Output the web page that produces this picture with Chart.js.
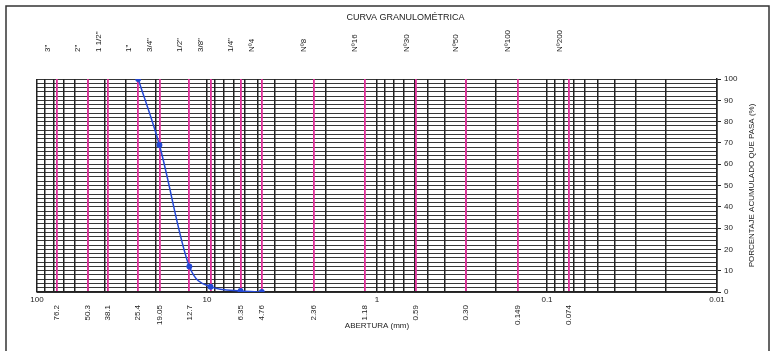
<!DOCTYPE html>
<html>
<head>
<meta charset="utf-8">
<script src="https://cdn.jsdelivr.net/npm/chart.js@4"></script>
<style>
html, body { margin: 0; padding: 0; background: #fff; }
</style>
</head>
<body>
<canvas id="curva" width="774" height="351"></canvas>
<script>
// tamices (nombre arriba, abertura abajo)
const sieveNames = ['3"', '2"', '1 1/2"', '1"', '3/4"', '1/2"', '3/8"', '1/4"', 'Nº4', 'Nº8', 'Nº16', 'Nº30', 'Nº50', 'Nº100', 'Nº200'];
const sieveSizes = [76.2, 50.3, 38.1, 25.4, 19.05, 12.7, 9.525, 6.35, 4.76, 2.36, 1.18, 0.59, 0.30, 0.149, 0.074];
const sieveLabels = ['76.2', '50.3', '38.1', '25.4', '19.05', '12.7', '', '6.35', '4.76', '2.36', '1.18', '0.59', '0.30', '0.149', '0.074'];

// muestra
const sampleSizes = [25.4, 19.05, 12.7, 9.525, 6.35, 4.76];
const percentPassing = [100, 69, 12, 2.5, 0.5, 0];

// ejes
const decadeTicks = [100, 10, 1, 0.1, 0.01];
const decadeLabels = ['100', '10', '1', '0.1', '0.01'];
const gridMultipliers = [1, 2, 3, 4, 5, 6, 7, 8, 9];
const yLabelStep = 10;

const FONT = '"Liberation Sans Narrow", "Liberation Sans", Arial, sans-serif';
const BLACK = '#222';
const MAGENTA = '#e0309a';
const BLUE = '#2448d6';

// lineas del papel logaritmico
const logGrid = [100];
decadeTicks.slice(1).forEach(function(d) {
    gridMultipliers.forEach(function(m) {
        logGrid.push(Number((m * d).toPrecision(3)));
    });
});

function sameLog(a, b) {
    return Math.abs(Math.log10(a) - Math.log10(b)) < 1e-6;
}

const framePlugin = {
    id: 'frame',
    beforeDraw(chart) {
        const c = chart.ctx;
        c.save();
        c.fillStyle = '#fff';
        c.fillRect(0, 0, chart.width, chart.height);
        c.strokeStyle = '#333';
        c.lineWidth = 1.5;
        c.strokeRect(6, 6, 763, 360);
        c.restore();
    },
    afterDraw(chart) {
        // titulo del eje derecho (se lee de abajo hacia arriba)
        const a = chart.chartArea;
        const c = chart.ctx;
        c.save();
        c.translate(752, (a.top + a.bottom) / 2);
        c.rotate(-Math.PI / 2);
        c.font = '8px ' + FONT;
        c.fillStyle = BLACK;
        c.textAlign = 'center';
        c.textBaseline = 'middle';
        c.fillText('PORCENTAJE ACUMULADO QUE PASA (%)', 0, 0);
        c.restore();
    }
};

new Chart(document.getElementById('curva'), {
    type: 'scatter',
    data: {
        datasets: [{
            data: sampleSizes.map(function(s, i) { return { x: s, y: percentPassing[i] }; }),
            showLine: true,
            borderColor: BLUE,
            backgroundColor: BLUE,
            borderWidth: 1.5,
            pointRadius: 2.2,
            pointBackgroundColor: BLUE,
            pointBorderColor: BLUE,
            cubicInterpolationMode: 'monotone',
            xAxisID: 'x',
            yAxisID: 'y'
        }]
    },
    options: {
        responsive: false,
        animation: false,
        layout: { padding: { left: 37, right: 0, top: 0, bottom: 0 } },
        plugins: {
            legend: { display: false },
            tooltip: { enabled: false },
            title: {
                display: true,
                text: 'CURVA GRANULOMÉTRICA',
                color: BLACK,
                font: { family: FONT, size: 9, weight: 'normal', lineHeight: '11px' },
                padding: { top: 12, bottom: 0 }
            }
        },
        scales: {
            y: {
                position: 'right',
                min: 0,
                max: 100,
                ticks: {
                    stepSize: 2,
                    autoSkip: false,
                    color: BLACK,
                    padding: 3,
                    font: { family: FONT, size: 8 },
                    callback: function(v) { return v % yLabelStep === 0 ? v : ''; }
                },
                grid: {
                    color: '#383838',
                    lineWidth: 1,
                    tickLength: 4,
                    tickColor: function(ctx) {
                        return ctx.tick && ctx.tick.value % yLabelStep === 0 ? BLACK : 'rgba(0,0,0,0)';
                    }
                },
                border: { color: BLACK, width: 1.5 },
                afterFit: function(scale) { scale.width = 57; }
            },
            x: {
                type: 'logarithmic',
                position: 'bottom',
                reverse: true,
                min: 0.01,
                max: 100,
                weight: 0,
                afterBuildTicks: function(scale) {
                    scale.ticks = logGrid.map(function(v) { return { value: v }; });
                },
                ticks: {
                    autoSkip: false,
                    maxRotation: 0,
                    minRotation: 0,
                    padding: 3,
                    color: BLACK,
                    font: { family: FONT, size: 8 },
                    callback: function(v) {
                        const i = decadeTicks.findIndex(function(d) { return sameLog(d, v); });
                        return i >= 0 ? decadeLabels[i] : '';
                    }
                },
                grid: { color: BLACK, lineWidth: 1.5, drawTicks: false },
                border: { color: BLACK, width: 1.5 },
                afterFit: function(scale) { scale.height = 13; }
            },
            xs: {
                type: 'logarithmic',
                position: 'bottom',
                reverse: true,
                min: 0.01,
                max: 100,
                weight: 1,
                afterBuildTicks: function(scale) {
                    scale.ticks = sieveSizes.map(function(v) { return { value: v }; });
                },
                ticks: {
                    autoSkip: false,
                    minRotation: 90,
                    maxRotation: 90,
                    padding: 0,
                    color: BLACK,
                    font: { family: FONT, size: 8 },
                    callback: function(v, i) { return sieveLabels[i]; }
                },
                grid: { color: MAGENTA, lineWidth: 1.8, drawTicks: false },
                border: { display: false },
                title: {
                    display: true,
                    text: 'ABERTURA (mm)',
                    color: BLACK,
                    font: { family: FONT, size: 8 },
                    padding: { top: 0, bottom: 20 }
                },
                afterFit: function(scale) { scale.height = 46; }
            },
            x2: {
                type: 'logarithmic',
                position: 'top',
                reverse: true,
                min: 0.01,
                max: 100,
                afterBuildTicks: function(scale) {
                    scale.ticks = sieveSizes.map(function(v) { return { value: v }; });
                },
                ticks: {
                    autoSkip: false,
                    minRotation: 90,
                    maxRotation: 90,
                    padding: 27,
                    color: BLACK,
                    font: { family: FONT, size: 8 },
                    callback: function(v, i) { return sieveNames[i]; }
                },
                grid: { display: false, drawTicks: false },
                border: { display: false },
                afterFit: function(scale) { scale.height = 56; }
            }
        }
    },
    plugins: [framePlugin]
});
</script>
</body>
</html>
